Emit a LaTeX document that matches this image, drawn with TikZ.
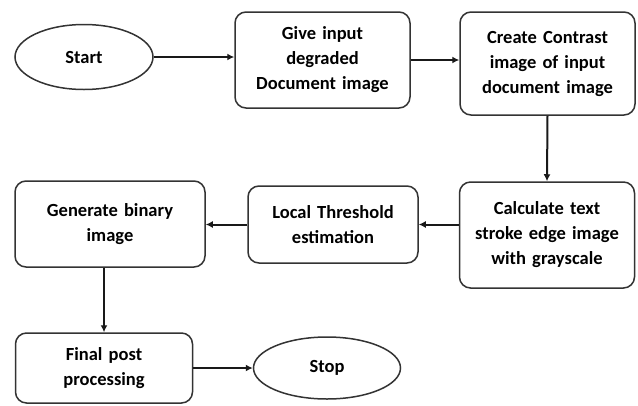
\documentclass[tikz,border=0pt]{standalone}
\usepackage{fontspec}
\setmainfont{Carlito}
\usetikzlibrary{shapes.geometric,arrows.meta}

\begin{document}
\begin{tikzpicture}[x=1pt,y=-1pt,
    stepbox/.style={draw=black!80, line width=1.5pt, rounded corners=11pt, align=center,
        font=\fontsize{18.5}{25}\selectfont\bfseries, inner sep=0pt},
    term/.style={draw=black!80, line width=1.5pt, ellipse, inner sep=0pt,
        font=\fontsize{18.5}{25}\selectfont\bfseries},
    flow/.style={draw=black!90, line width=2pt, -{Latex[length=7pt,width=7pt]}}]
    \useasboundingbox (0,0) rectangle (638,405);
    % Top row
    \node[term, minimum width=138pt, minimum height=65pt] (start) at (84,57) {Start};
    \node[stepbox, minimum width=175pt, minimum height=96pt, text width=165pt] (give) at (322.5,60)
        {Give input\\degraded\\Document image};
    \node[stepbox, minimum width=175pt, minimum height=103pt, text width=165pt] (contrast) at (547.5,63.5)
        {Create Contrast\\image of input\\document image};
    % Middle row
    \node[stepbox, minimum width=175pt, minimum height=106pt, text width=165pt] (stroke) at (547,235)
        {Calculate text\\stroke edge image\\with grayscale};
    \node[stepbox, minimum width=170pt, minimum height=77pt, text width=160pt] (thresh) at (333,224.5)
        {Local Threshold\\estimation};
    \node[stepbox, minimum width=190pt, minimum height=86pt, text width=180pt] (binary) at (110,224)
        {Generate binary\\image\\[8pt]};
    % Bottom row
    \node[stepbox, minimum width=177pt, minimum height=70pt, text width=167pt] (final) at (104,368)
        {Final post\\processing};
    \node[term, minimum width=147pt, minimum height=62pt] (stop) at (327,368) {Stop};
    % Connectors
    \draw[flow] (start) -- (start -| give.west);
    \draw[flow] (give) -- (give -| contrast.west);
    \draw[flow] (contrast.south) -- (stroke.north);
    \draw[flow] (thresh -| stroke.west) -- (thresh.east);
    \draw[flow] (thresh.west) -- (thresh -| binary.east);
    \draw[flow] (final |- binary.south) -- (final.north);
    \draw[flow] (final) -- (stop);
\end{tikzpicture}
\end{document}
